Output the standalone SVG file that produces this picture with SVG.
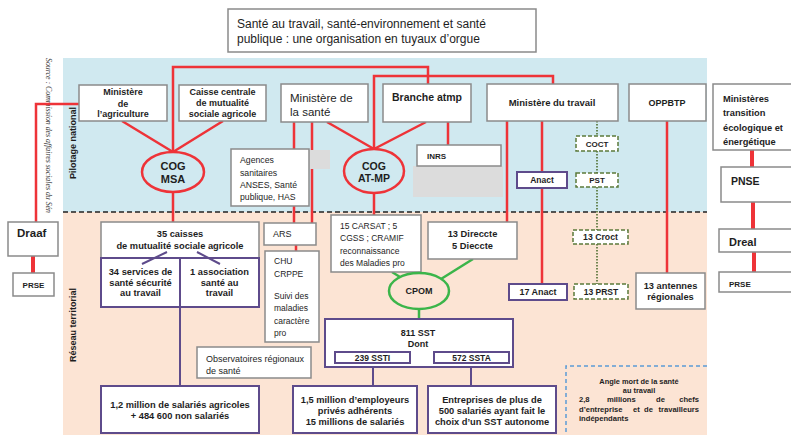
<svg xmlns="http://www.w3.org/2000/svg" width="791" height="435" viewBox="0 0 791 435">
<defs>
<style>
.t{font-family:"Liberation Sans",Arial,sans-serif;fill:#1e1e1e}
.b{font-weight:bold}
.m{text-anchor:middle}
.box{fill:#fff;stroke:#8a8a8a;stroke-width:1.5}
.pbox{fill:#fff;stroke:#5e4b8b;stroke-width:2}
.gbox{fill:#fff;stroke:#5b7a3a;stroke-width:1.5;stroke-dasharray:4,2}
.grey{fill:#dcdcdc}
.red{stroke:#ee3338;stroke-width:2.5;fill:none}
.thick{stroke-width:4}
.pur{stroke:#5e4b8b;stroke-width:2;fill:none}
.grn{stroke:#3bb54a;stroke-width:2.5;fill:none}
.dot{stroke:#4f6e30;stroke-width:1.6;stroke-dasharray:1.5,1.5;fill:none}
</style>
</defs>
<rect x="0" y="0" width="791" height="435" fill="#fff"/>
<rect x="63" y="58" width="644" height="154" fill="#d0e9f0"/>
<rect x="63" y="212" width="644" height="223" fill="#fce4d4"/>
<line x1="63" y1="212" x2="707" y2="212" stroke="#222" stroke-width="1.5" stroke-dasharray="5,3"/>
<text class="t b m" font-size="9" transform="translate(76,143) rotate(-90)">Pilotage national</text>
<text class="t b m" font-size="9" transform="translate(76,325) rotate(-90)">Réseau territorial</text>
<text font-family="'Liberation Serif',serif" font-style="italic" font-size="8.5" fill="#333" textLength="155" lengthAdjust="spacingAndGlyphs" transform="translate(46,58) rotate(90)">Source : Commission des affaires sociales du Sén</text>
<g id="title"><rect class="box" x="228" y="9" width="308" height="43"/><text class="t" font-size="12" x="237" y="28">Santé au travail, santé-environnement et santé</text><text class="t" font-size="12" x="237" y="43">publique : une organisation en tuyaux d’orgue</text></g>
<g id="connectors">
<path class="red" d="M36 222V104H79"/>
<path class="red thick" d="M33 256V273"/>
<path class="red" stroke-width="2" d="M122 121L173 152M223 121L173 152"/>
<path class="red" d="M173 152V67H428V84"/>
<path class="red" d="M173 192V222"/>
<path class="red" stroke-width="2" d="M327 122L374 149M426 122L374 149"/>
<path class="red" d="M374 149V76H553V84"/>
<path class="red" d="M374 193V215"/>
<path class="red" d="M294 122V223M312 122V223"/>
<path class="red" d="M296 245V251"/>
<path class="red" d="M448 122V145"/>
<path class="red" d="M507 121V222"/>
<path class="red" d="M542 121V284"/>
<path class="red" d="M667 121V273"/>
<path class="red thick" d="M752 150V167M753 202V229M754 252V272"/>
<path class="grn" d="M392 272L400 277M473 259L441 279M419 309V319"/>
<path class="dot" d="M597 121V284"/>
<path class="pur" d="M180 307V386M373 363V386M471 363V386"/>
</g>
<g id="n-agri"><rect class="box" x="79" y="85" width="88" height="36"/><text class="t b m" font-size="9" x="123" y="95">Ministère</text><text class="t b m" font-size="9" x="123" y="107">de</text><text class="t b m" font-size="9" x="123" y="117">l’agriculture</text></g>
<g id="n-ccmsa"><rect class="box" x="179" y="85" width="87" height="36"/><text class="t b m" font-size="9" x="222.5" y="95">Caisse centrale</text><text class="t b m" font-size="9" x="222.5" y="106">de mutualité</text><text class="t b m" font-size="9" x="222.5" y="117">sociale agricole</text></g>
<g id="n-sante"><rect class="box" x="281" y="84" width="87" height="38"/><text class="t" font-size="11.5" x="290" y="102">Ministère de</text><text class="t" font-size="11.5" x="290" y="116">la santé</text></g>
<g id="n-atmp"><rect class="box" x="383" y="84" width="88" height="38"/><text class="t b" font-size="10.5" x="392" y="101">Branche atmp</text></g>
<g id="n-travail"><rect class="box" x="487" y="84" width="131" height="37"/><text class="t b m" font-size="9.5" x="552" y="106">Ministère du travail</text></g>
<g id="n-oppbtp"><rect class="box" x="629" y="84" width="77" height="37"/><text class="t b m" font-size="9" x="667" y="106">OPPBTP</text></g>
<g id="n-mte"><rect class="box" x="713" y="84" width="80" height="66"/><text class="t b" font-size="9.3" x="723" y="102">Ministères</text><text class="t b" font-size="9.3" x="723" y="116">transition</text><text class="t b" font-size="9.3" x="723" y="131">écologique et</text><text class="t b" font-size="9.3" x="723" y="145">énergétique</text></g>
<g id="n-pnse"><rect class="box" x="721" y="167" width="72" height="35"/><text class="t b" font-size="10.5" x="731" y="185">PNSE</text></g>
<g id="n-dreal"><rect class="box" x="719" y="229" width="74" height="23"/><text class="t b" font-size="11" x="729" y="246">Dreal</text></g>
<g id="n-prse-r"><rect class="box" x="719" y="272" width="74" height="20"/><text class="t b" font-size="8" x="729" y="287">PRSE</text></g>
<g id="n-draaf"><rect class="box" x="8" y="222" width="50" height="34"/><text class="t b" font-size="11.5" x="17" y="237">Draaf</text></g>
<g id="n-prse-l"><rect class="box" x="13" y="273" width="41" height="23"/><text class="t b m" font-size="8" x="33.5" y="288">PRSE</text></g>
<g id="n-cogmsa"><ellipse class="red" cx="173" cy="172" rx="31" ry="20"/><text class="t b m" font-size="11" x="173" y="170">COG</text><text class="t b m" font-size="11" x="173" y="183">MSA</text></g>
<g id="n-cogatmp"><ellipse class="red" cx="374" cy="171" rx="30" ry="22"/><text class="t b m" font-size="10.5" x="374" y="170">COG</text><text class="t b m" font-size="10.5" x="374" y="182">AT-MP</text></g>
<g id="n-agences"><rect class="grey" x="309" y="150" width="21" height="19"/><rect class="box" x="231" y="149" width="78" height="57"/><text class="t" font-size="8.7" x="240" y="163">Agences</text><text class="t" font-size="8.7" x="240" y="176">sanitaires</text><text class="t" font-size="8.7" x="240" y="188">ANSES, Santé</text><text class="t" font-size="8.7" x="240" y="200">publique, HAS</text></g>
<g id="n-inrs"><rect class="grey" x="413" y="166" width="90" height="31"/><rect class="box" x="417" y="145" width="84" height="21"/><text class="t b" font-size="8" x="427" y="159">INRS</text></g>
<g id="n-anact"><rect class="pbox" x="517" y="172" width="50" height="16"/><text class="t b m" font-size="8.5" x="542" y="183">Anact</text></g>
<g id="n-coct"><rect class="gbox" x="576" y="136" width="42" height="15"/><text class="t b m" font-size="8" x="597" y="146.5">COCT</text></g>
<g id="n-pst"><rect class="gbox" x="576" y="173" width="42" height="14"/><text class="t b m" font-size="8" x="597" y="183">PST</text></g>
<g id="n-croct"><rect class="gbox" x="573" y="230" width="55" height="14"/><text class="t b m" font-size="8.7" x="600.5" y="240">13 Croct</text></g>
<g id="n-prst"><rect class="gbox" x="574" y="284" width="54" height="15"/><text class="t b m" font-size="8.5" x="601" y="295">13 PRST</text></g>
<g id="n-17anact"><rect class="pbox" x="509" y="284" width="58" height="16"/><text class="t b m" font-size="9" x="538" y="295">17 Anact</text></g>
<g id="n-antennes"><rect class="box" x="636" y="273" width="69" height="36"/><text class="t b m" font-size="9.3" x="670.5" y="289">13 antennes</text><text class="t b m" font-size="9.3" x="670.5" y="300">régionales</text></g>
<g id="n-direccte"><rect class="box" x="428" y="222" width="89" height="37"/><text class="t b m" font-size="9.3" x="472.5" y="237">13 Direccte</text><text class="t b m" font-size="9.3" x="472.5" y="249">5 Dieccte</text></g>
<g id="n-carsat"><rect class="box" x="331" y="215" width="90" height="57"/><text class="t" font-size="8.5" x="340" y="229">15 CARSAT ; 5</text><text class="t" font-size="8.5" x="340" y="241">CGSS ; CRAMIF</text><text class="t" font-size="8.5" x="340" y="254">reconnaissance</text><text class="t" font-size="8.5" x="340" y="266">des Maladies pro</text></g>
<g id="n-ars"><rect class="box" x="264" y="223" width="52" height="22"/><text class="t" font-size="9" x="273" y="237">ARS</text></g>
<g id="n-chu"><rect class="box" x="265" y="251" width="54" height="91"/><text class="t" font-size="8.5" x="274" y="264">CHU</text><text class="t" font-size="8.5" x="274" y="277">CRPPE</text><text class="t" font-size="8.5" x="274" y="299">Suivi des</text><text class="t" font-size="8.5" x="274" y="311">maladies</text><text class="t" font-size="8.5" x="274" y="324">caractère</text><text class="t" font-size="8.5" x="274" y="336">pro</text></g>
<g id="n-ors"><rect class="box" x="197" y="347" width="114" height="31"/><text class="t" font-size="9" x="206" y="362">Observatoires régionaux</text><text class="t" font-size="9" x="206" y="374">de santé</text></g>
<g id="n-35caisses"><rect class="box" x="101" y="222" width="158" height="36"/><text class="t b m" font-size="9.3" x="180" y="237">35 caisses</text><text class="t b m" font-size="9.3" x="180" y="249">de mutualité sociale agricole</text></g>
<g id="n-34sst"><rect class="pbox" x="101" y="258" width="79" height="49"/><text class="t b m" font-size="9.3" x="140.5" y="275">34 services de</text><text class="t b m" font-size="9.3" x="140.5" y="286">santé sécurité</text><text class="t b m" font-size="9.3" x="140.5" y="296">au travail</text></g>
<g id="n-1asso"><rect class="pbox" x="180" y="258" width="79" height="49"/><text class="t b m" font-size="9.3" x="219.5" y="275">1 association</text><text class="t b m" font-size="9.3" x="219.5" y="286">santé au</text><text class="t b m" font-size="9.3" x="219.5" y="296">travail</text></g>
<g id="n-12m"><rect class="pbox" x="101" y="386" width="158" height="47"/><text class="t b m" font-size="9.3" x="180" y="408">1,2 million de salariés agricoles</text><text class="t b m" font-size="9.3" x="180" y="419">+ 484 600 non salariés</text></g>
<g id="n-cpom"><ellipse class="grn" cx="419" cy="291" rx="30" ry="18"/><text class="t b m" font-size="9" x="419" y="294">CPOM</text></g>
<g id="n-811"><rect class="pbox" x="325" y="319" width="188" height="48"/><text class="t b m" font-size="9" x="418" y="336">811 SST</text><text class="t b m" font-size="9" x="418" y="347">Dont</text></g>
<g id="n-239"><rect class="pbox" x="335" y="352" width="75" height="11"/><text class="t b m" font-size="8.5" x="372.5" y="361">239 SSTI</text></g>
<g id="n-572"><rect class="pbox" x="434" y="352" width="75" height="11"/><text class="t b m" font-size="8.5" x="471.5" y="361">572 SSTA</text></g>
<g id="n-15m"><rect class="pbox" x="293" y="386" width="124" height="47"/><text class="t b m" font-size="9.3" x="355" y="403">1,5 million d’employeurs</text><text class="t b m" font-size="9.3" x="355" y="414">privés adhérents</text><text class="t b m" font-size="9.3" x="355" y="425">15 millions de salariés</text></g>
<g id="n-entreprises"><rect class="pbox" x="428" y="386" width="128" height="47"/><text class="t b m" font-size="9.3" x="492" y="403">Entreprises de plus de</text><text class="t b m" font-size="9.3" x="492" y="414">500 salariés ayant fait le</text><text class="t b m" font-size="9.3" x="492" y="425">choix d’un SST autonome</text></g>
<g id="n-anglemort"><path d="M707 366H566V435" fill="none" stroke="#5b9bd5" stroke-width="1.5" stroke-dasharray="4,3"/>
<text class="t b m" font-size="7.4" x="639" y="384">Angle mort de la santé</text><text class="t b m" font-size="7.4" x="639" y="393">au travail</text>
<text class="t b" font-size="7.6" x="579" y="402">2,8</text><text class="t b" font-size="7.6" x="607" y="402">millions</text><text class="t b" font-size="7.6" x="656" y="402">de</text><text class="t b" font-size="7.6" x="699" y="402" text-anchor="end">chefs</text>
<text class="t b" font-size="7.6" x="579" y="412">d’entreprise</text><text class="t b" font-size="7.6" x="633" y="412">et</text><text class="t b" font-size="7.6" x="644" y="412">de</text><text class="t b" font-size="7.6" x="699" y="412" text-anchor="end">travailleurs</text>
<text class="t b" font-size="7.6" x="579" y="421">indépendants</text></g>
<g id="connectors-over"><path class="pur" d="M167 252L142 264M197 252L220 264"/></g>
</svg>
